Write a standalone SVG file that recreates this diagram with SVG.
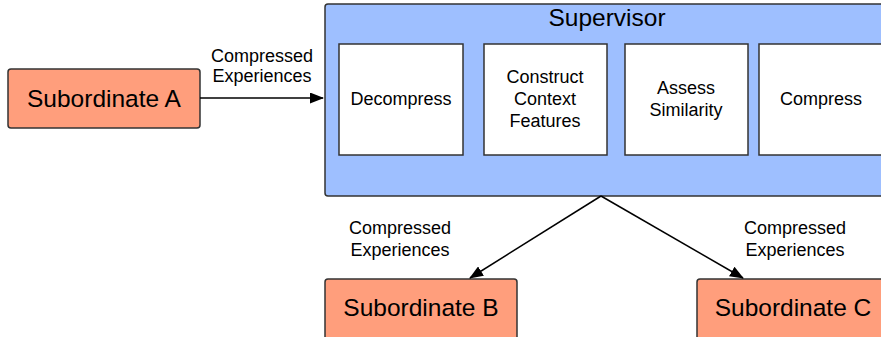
<svg xmlns="http://www.w3.org/2000/svg" width="881" height="337" viewBox="0 0 881 337">
<defs>
<marker id="arr" markerWidth="14" markerHeight="11" refX="13" refY="5.5" orient="auto" markerUnits="userSpaceOnUse">
<path d="M0,0 L14,5.5 L0,11 Z" fill="#000"/>
</marker>
<style>
.sub{fill:#FF9E7C;stroke:#333;stroke-width:1.5}
.sup{fill:#9EBFFF;stroke:#333;stroke-width:1.5}
.inner{fill:#fff;stroke:#333;stroke-width:1.5}
.big{font-family:"Liberation Sans",Arial,sans-serif;font-size:24.5px;fill:#000;text-anchor:middle}
.mid{font-family:"Liberation Sans",Arial,sans-serif;font-size:18px;fill:#000;text-anchor:middle}
.edge{stroke:#000;stroke-width:1.5;fill:none;marker-end:url(#arr)}
</style>
</defs>
<g id="supervisor">
<rect class="sup" x="325" y="4" width="570" height="192" rx="3"/>
<text class="big" x="607" y="26">Supervisor</text>
</g>
<g id="decompress">
<rect class="inner" x="339" y="44" width="124" height="111"/>
<text class="mid" x="401" y="105">Decompress</text>
</g>
<g id="construct">
<rect class="inner" x="484" y="44" width="123" height="111"/>
<text class="mid" x="545" y="83">Construct</text>
<text class="mid" x="545" y="105">Context</text>
<text class="mid" x="545" y="127">Features</text>
</g>
<g id="assess">
<rect class="inner" x="625" y="44" width="123" height="111"/>
<text class="mid" x="686" y="94">Assess</text>
<text class="mid" x="686" y="116">Similarity</text>
</g>
<g id="compress">
<rect class="inner" x="759" y="44" width="130" height="111"/>
<text class="mid" x="821" y="105">Compress</text>
</g>
<g id="subA">
<rect class="sub" x="8" y="69" width="192" height="59" rx="3"/>
<text class="big" x="104" y="107">Subordinate A</text>
</g>
<g id="subB">
<rect class="sub" x="325" y="279" width="192" height="62" rx="3"/>
<text class="big" x="421" y="316">Subordinate B</text>
</g>
<g id="subC">
<rect class="sub" x="697" y="279" width="192" height="62" rx="3"/>
<text class="big" x="793" y="316">Subordinate C</text>
</g>
<g id="connectors">
<line class="edge" x1="200" y1="98" x2="323" y2="98"/>
<line class="edge" x1="601" y1="196" x2="470" y2="278"/>
<line class="edge" x1="601" y1="196" x2="743" y2="278"/>
<text class="mid" x="262" y="62">Compressed</text>
<text class="mid" x="262" y="82">Experiences</text>
<text class="mid" x="400" y="234">Compressed</text>
<text class="mid" x="400" y="256">Experiences</text>
<text class="mid" x="795" y="234">Compressed</text>
<text class="mid" x="795" y="256">Experiences</text>
</g>
</svg>
